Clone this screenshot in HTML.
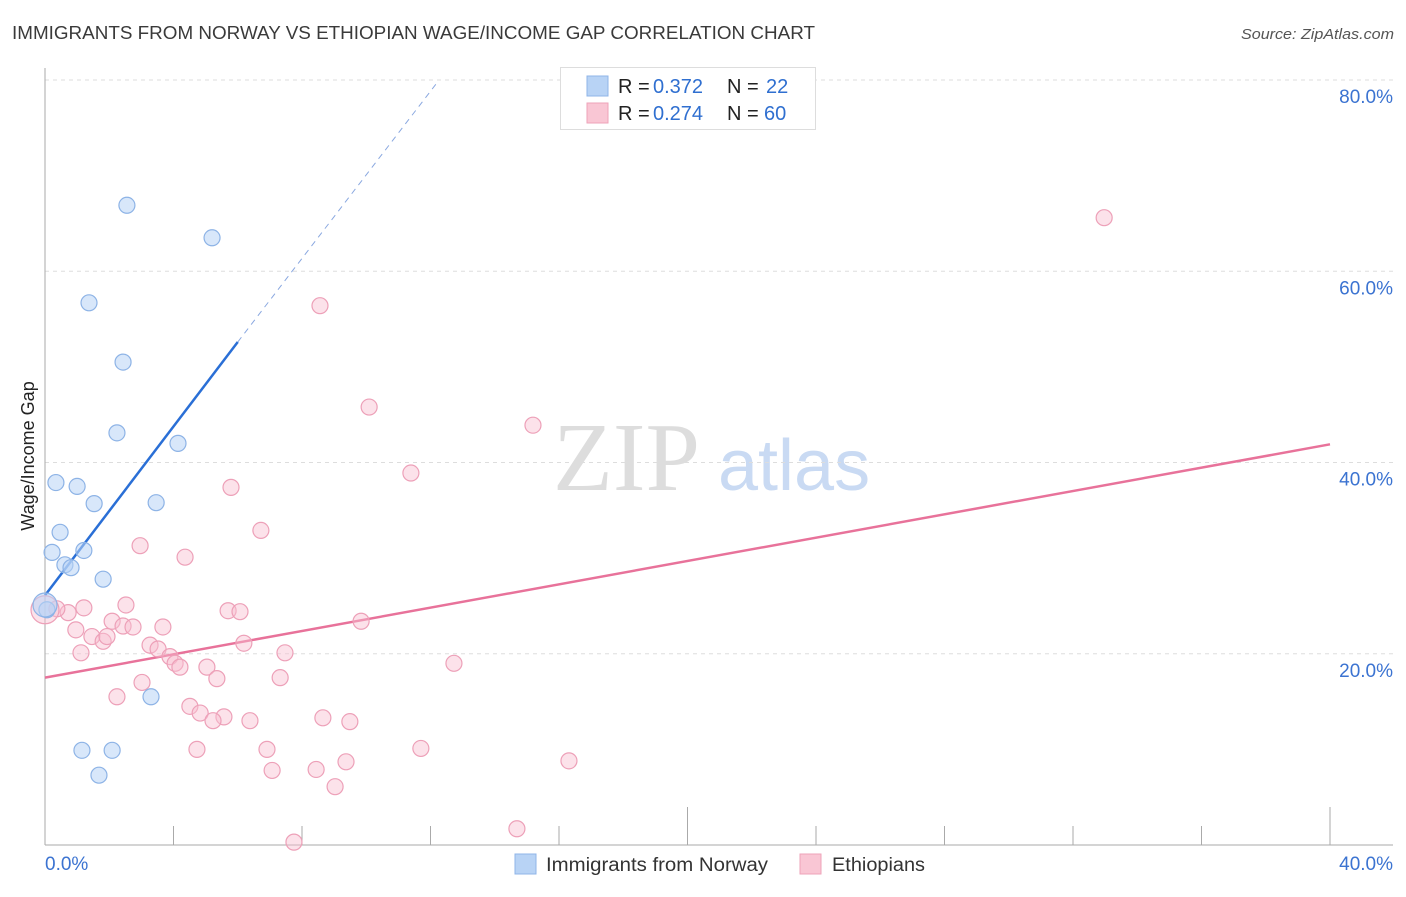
<!DOCTYPE html>
<html><head><meta charset="utf-8"><style>
body{margin:0;background:#fff;font-family:"Liberation Sans",sans-serif;}
svg text{font-family:"Liberation Sans",sans-serif;}
</style></head><body>
<svg id="chart" width="1406" height="892" viewBox="0 0 1406 892" xmlns="http://www.w3.org/2000/svg">
<text x="12" y="39" font-size="18" fill="#3a3a3a" textLength="803" lengthAdjust="spacingAndGlyphs">IMMIGRANTS FROM NORWAY VS ETHIOPIAN WAGE/INCOME GAP CORRELATION CHART</text>
<text x="1394" y="39" font-size="15" fill="#555" font-style="italic" text-anchor="end" textLength="153" lengthAdjust="spacingAndGlyphs">Source: ZipAtlas.com</text>
<g>
<text x="553" y="490" font-size="98" fill="#ddd" style="font-family:'Liberation Serif',serif">ZIP</text>
<text x="718" y="490" font-size="72" fill="#c9daf3">atlas</text>
</g>
<g id="grid"></g>
<g id="axes"></g>
<g id="lines"></g>
<g id="points"></g>
<text transform="translate(34,456) rotate(-90)" font-size="18" fill="#222" text-anchor="middle">Wage/Income Gap</text>
<g>
<rect x="560.5" y="67.5" width="255" height="62" fill="#fff" stroke="#ddd"/>
<rect x="587" y="76" width="21" height="20" fill="#b8d3f5" stroke="#8fb5e8"/>
<text x="618" y="93" font-size="20" fill="#222">R =</text>
<text x="653" y="93" font-size="20" fill="#2f6fd0">0.372</text>
<text x="727" y="93" font-size="20" fill="#222">N =</text>
<text x="766" y="93" font-size="20" fill="#2f6fd0">22</text>
<rect x="587" y="103" width="21" height="20" fill="#f9c6d4" stroke="#eea3b9"/>
<text x="618" y="120" font-size="20" fill="#222">R =</text>
<text x="653" y="120" font-size="20" fill="#2f6fd0">0.274</text>
<text x="727" y="120" font-size="20" fill="#222">N =</text>
<text x="764" y="120" font-size="20" fill="#2f6fd0">60</text>
</g>
<g>
<rect x="515" y="854" width="21" height="20" fill="#b8d3f5" stroke="#8fb5e8"/>
<text x="546" y="871" font-size="19" fill="#333" textLength="222" lengthAdjust="spacingAndGlyphs">Immigrants from Norway</text>
<rect x="800" y="854" width="21" height="20" fill="#f9c6d4" stroke="#eea3b9"/>
<text x="832" y="871" font-size="19" fill="#333" textLength="93" lengthAdjust="spacingAndGlyphs">Ethiopians</text>
</g>
</svg>
<script>
const yTicks=[20,40,60,80];
const yTickLabels=["20.0%","40.0%","60.0%","80.0%"];
const xTickVals=[0,4,8,12,16,20,24,28,32,36,40];
const norwayX=[2.55,5.20,1.37,2.43,2.24,4.14,0.34,1.00,1.53,3.46,0.47,0.22,1.21,0.62,0.81,1.81,0.06,3.30,1.15,2.09,1.68,0.0];
const norwayY=[66.9,63.5,56.7,50.5,43.1,42.0,37.9,37.5,35.7,35.8,32.7,30.6,30.8,29.3,29.0,27.8,24.6,15.5,9.9,9.9,7.3,25.1];
const ethX=[32.97,8.56,10.09,15.19,11.39,5.79,6.72,2.96,4.36,2.52,1.21,0.72,0.37,5.70,6.07,9.84,2.09,2.43,2.74,3.67,0.96,1.46,1.81,1.93,6.19,3.27,3.52,3.89,1.12,7.47,4.05,4.20,5.04,12.73,3.02,5.35,7.32,2.24,4.51,4.83,5.57,5.23,6.38,8.65,9.49,4.73,6.91,11.70,7.07,8.44,9.37,16.31,9.03,14.69,7.75,0.0];
const ethY=[65.6,56.4,45.8,43.9,38.9,37.4,32.9,31.3,30.1,25.1,24.8,24.3,24.7,24.5,24.4,23.4,23.4,22.9,22.8,22.8,22.5,21.8,21.3,21.8,21.1,20.9,20.5,19.7,20.1,20.1,19.0,18.6,18.6,19.0,17.0,17.4,17.5,15.5,14.5,13.8,13.4,13.0,13.0,13.3,12.9,10.0,10.0,10.1,7.8,7.9,8.7,8.8,6.1,1.7,0.3,24.6];
const norwayTrend=[[0,26.1],[6.0,52.6],[12.2,79.7]];
const ethTrend=[[0,17.5],[40,41.9]];
const NS="http://www.w3.org/2000/svg";
const X=v=>45+v*32.125, Y=v=>845-v*9.5625;
function mk(parent,tag,attrs){const e=document.createElementNS(NS,tag);for(const k in attrs)e.setAttribute(k,attrs[k]);document.getElementById(parent).appendChild(e);return e;}
yTicks.forEach((t,i)=>{
 const l=mk('grid','line',{x1:45,x2:1393,y1:Y(t),y2:Y(t),stroke:'#ddd','stroke-dasharray':'4,4'});
 
 
 const tx=mk('grid','text',{x:1393,y:Y(t)+23,'font-size':19,fill:'#3b73d1','text-anchor':'end'});
 tx.textContent=yTickLabels[i];
 
 
});
const ax=mk('axes','line',{x1:45,x2:45,y1:68,y2:845,stroke:'#aaa'});


const bx=mk('axes','line',{x1:45,x2:1393,y1:845,y2:845,stroke:'#aaa'});


xTickVals.forEach((t,i)=>{
 const tk=mk('axes','line',{x1:X(t),x2:X(t),y1:826,y2:845,stroke:'#aaa'});
 if(i===5||i===10)tk.setAttribute('y1',807);
 
 
});
const xl0=mk('axes','text',{x:45,y:870,'font-size':19,fill:'#3b73d1'});xl0.textContent="0.0%";


const xl1=mk('axes','text',{x:1393,y:870,'font-size':19,fill:'#3b73d1','text-anchor':'end'});xl1.textContent="40.0%";


const t1=mk('lines','line',{x1:X(norwayTrend[0][0]),y1:Y(norwayTrend[0][1]),x2:X(norwayTrend[1][0]),y2:Y(norwayTrend[1][1]),stroke:'#2a6fd6','stroke-width':2.5});


const t2=mk('lines','line',{x1:X(norwayTrend[1][0]),y1:Y(norwayTrend[1][1]),x2:X(norwayTrend[2][0]),y2:Y(norwayTrend[2][1]),stroke:'#8aa8e0','stroke-width':1,'stroke-dasharray':'6,5'});


const t3=mk('lines','line',{x1:X(ethTrend[0][0]),y1:Y(ethTrend[0][1]),x2:X(ethTrend[1][0]),y2:Y(ethTrend[1][1]),stroke:'#e8729a','stroke-width':2.5});


ethX.forEach((x,i)=>{
 const big=i===ethX.length-1;
 const c=mk('points','circle',{cx:X(x),cy:Y(ethY[i]),r:big?14:8,fill:'rgba(248,190,208,0.45)',stroke:'#eda0b8','stroke-width':1.2});
 
 
});
norwayX.forEach((x,i)=>{
 const big=i===norwayX.length-1;
 const c=mk('points','circle',{cx:X(x),cy:Y(norwayY[i]),r:big?12:8,fill:'rgba(184,211,245,0.55)',stroke:'#8db3e6','stroke-width':1.2});
 
 
});
</script>
</body></html>
